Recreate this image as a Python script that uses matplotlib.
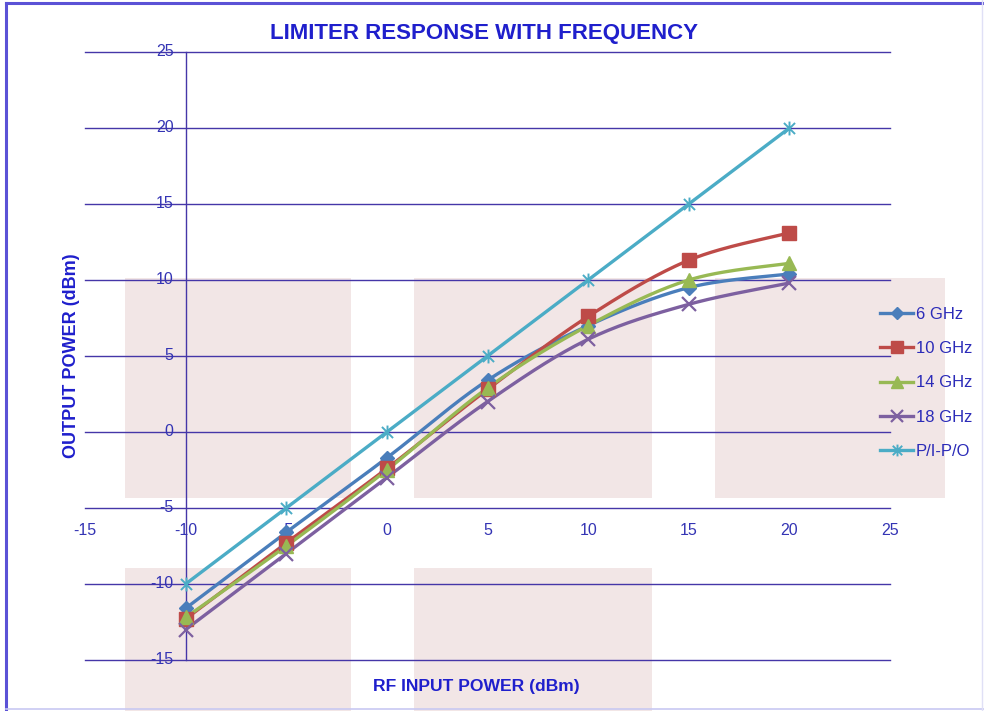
import numpy as np
import matplotlib
matplotlib.use("Agg")
import matplotlib.pyplot as plt
from matplotlib.patches import Rectangle
from matplotlib.path import Path
from matplotlib.lines import Line2D

plt.rcParams['font.family'] = ['Liberation Sans', 'DejaVu Sans']

# ---- data ----
x_in = [-10, -5, 0, 5, 10, 15, 20]
ghz6 = [-11.6, -6.6, -1.7, 3.4, 7.0, 9.5, 10.4]
ghz10 = [-12.3, -7.3, -2.4, 2.8, 7.6, 11.3, 13.1]
ghz14 = [-12.2, -7.5, -2.5, 2.9, 7.0, 10.0, 11.1]
ghz18 = [-13.0, -8.0, -3.0, 2.0, 6.1, 8.4, 9.8]
pipo = [-10, -5, 0, 5, 10, 15, 20]
series_names = ["6 GHz", "10 GHz", "14 GHz", "18 GHz", "P/I-P/O"]
x_ticks = [-15, -10, -5, 0, 5, 10, 15, 20, 25]
y_ticks = [-15, -10, -5, 0, 5, 10, 15, 20, 25]

title = "LIMITER RESPONSE WITH FREQUENCY"
xlabel = "RF INPUT POWER (dBm)"
ylabel = "OUTPUT POWER (dBm)"

W, H = 984, 711
fig = plt.figure(figsize=(W / 100, H / 100), dpi=100)
fig.patch.set_facecolor("white")

def px_rect(x0, y0, x1, y1, **kw):
    return Rectangle((x0 / W, 1 - y1 / H), (x1 - x0) / W, (y1 - y0) / H,
                     transform=fig.transFigure, **kw)

pink = "#f2e6e6"
for (a, b, c, d) in [(125, 278, 351, 498), (414, 278, 652, 498), (715, 278, 945, 498),
                     (125, 568, 351, 711), (414, 568, 652, 711)]:
    fig.patches.append(px_rect(a, b, c, d, facecolor=pink, edgecolor="none", zorder=-5))

# border
fig.add_artist(Line2D([6 / W, 6 / W], [0, 1 - 3 / H], transform=fig.transFigure,
                      color="#5b52d6", lw=2.2, zorder=1))
fig.add_artist(Line2D([6 / W, 1], [1 - 3 / H, 1 - 3 / H], transform=fig.transFigure,
                      color="#5b52d6", lw=2.2, zorder=1))
fig.add_artist(Line2D([6 / W, 1], [2 / H, 2 / H], transform=fig.transFigure,
                      color="#c8c8f2", lw=1.2, zorder=1))
fig.add_artist(Line2D([982 / W, 982 / W], [0, 1], transform=fig.transFigure,
                      color="#e0e0f6", lw=1.0, zorder=1))

ax = fig.add_axes([85 / W, 51 / H, 805 / W, 608 / H])
ax.set_zorder(2)
ax.patch.set_alpha(0)
ax.set_xlim(-15, 25)
ax.set_ylim(-15, 25)
for s in ax.spines.values():
    s.set_visible(False)
ax.set_xticks([])
ax.set_yticks([])

grid_c = "#4536a8"
for yv in y_ticks:
    ax.axhline(yv, color=grid_c, lw=1.0, zorder=1, clip_on=False)
ax.plot([-10, -10], [-15, 25], color=grid_c, lw=1.0, zorder=1, clip_on=False)

lab_c = "#3434b4"
for yv in y_ticks:
    ax.text(-10.6, yv, str(yv), ha="right", va="center", fontsize=11.5, color=lab_c, zorder=2)
for xv in x_ticks:
    ax.text(xv, -6.45, str(xv), ha="center", va="center", fontsize=11.5, color=lab_c, zorder=2)

def smooth(xs, ys, n=30):
    xs = np.asarray(xs, float); ys = np.asarray(ys, float)
    P = np.column_stack([xs, ys])
    Pext = np.vstack([P[0], P, P[-1]])
    out = []
    for i in range(len(P) - 1):
        p0, p1, p2, p3 = Pext[i], Pext[i + 1], Pext[i + 2], Pext[i + 3]
        c1 = p1 + (p2 - p0) / 6.0
        c2 = p2 - (p3 - p1) / 6.0
        t = np.linspace(0, 1, n, endpoint=(i == len(P) - 2))[:, None]
        b = ((1 - t) ** 3) * p1 + 3 * ((1 - t) ** 2) * t * c1 + 3 * (1 - t) * t ** 2 * c2 + t ** 3 * p2
        out.append(b)
    out = np.vstack(out)
    return out[:, 0], out[:, 1]

star = Path([(-1, -1), (1, 1), (-1, 1), (1, -1), (0, -1.25), (0, 1.25)],
            [Path.MOVETO, Path.LINETO, Path.MOVETO, Path.LINETO, Path.MOVETO, Path.LINETO])

specs = [
    (ghz6, "#4a7ebb", "D", 7, None),
    (ghz10, "#be4b48", "s", 10, None),
    (ghz14, "#98b954", "^", 10, None),
    (ghz18, "#7d60a0", "x", 10, 1.6),
    (pipo, "#4bacc6", star, 10, 1.4),
]
handles = []
for (ys, c, m, ms, mew), name in zip(specs, series_names):
    sx, sy = smooth(x_in, ys)
    ax.plot(sx, sy, color=c, lw=2.4, zorder=3, solid_capstyle="round")
    mk = dict(marker=m, markersize=ms, color=c)
    if mew:
        mk["markeredgewidth"] = mew
        mk["markerfacecolor"] = "none"
    else:
        mk["markeredgecolor"] = c
    ax.plot(x_in, ys, linestyle="none", zorder=4, **mk)
    hk = dict(mk)
    hk["markersize"] = ms * 0.85
    handles.append(Line2D([], [], lw=2.4, **hk))

leg = fig.legend(handles, series_names, loc="center left",
                 bbox_to_anchor=(880 / W, 1 - 383 / H), bbox_transform=fig.transFigure,
                 frameon=False, fontsize=12, handlelength=2.0, handletextpad=0.15,
                 labelspacing=1.15, borderaxespad=0, borderpad=0)
for t in leg.get_texts():
    t.set_color("#2b2bb8")

fig.text(484 / W, 1 - 34 / H, title, ha="center", va="center", fontsize=16,
         fontweight="bold", color="#1f1fcc")
fig.text(476 / W, 1 - 686 / H, xlabel, ha="center", va="center", fontsize=12.6,
         fontweight="bold", color="#1f1fcc")
fig.text(72 / W, 1 - 356 / H, ylabel, ha="center", va="center", fontsize=13,
         fontweight="bold", color="#1f1fcc", rotation=90)

fig.savefig("out.png", dpi=100)
